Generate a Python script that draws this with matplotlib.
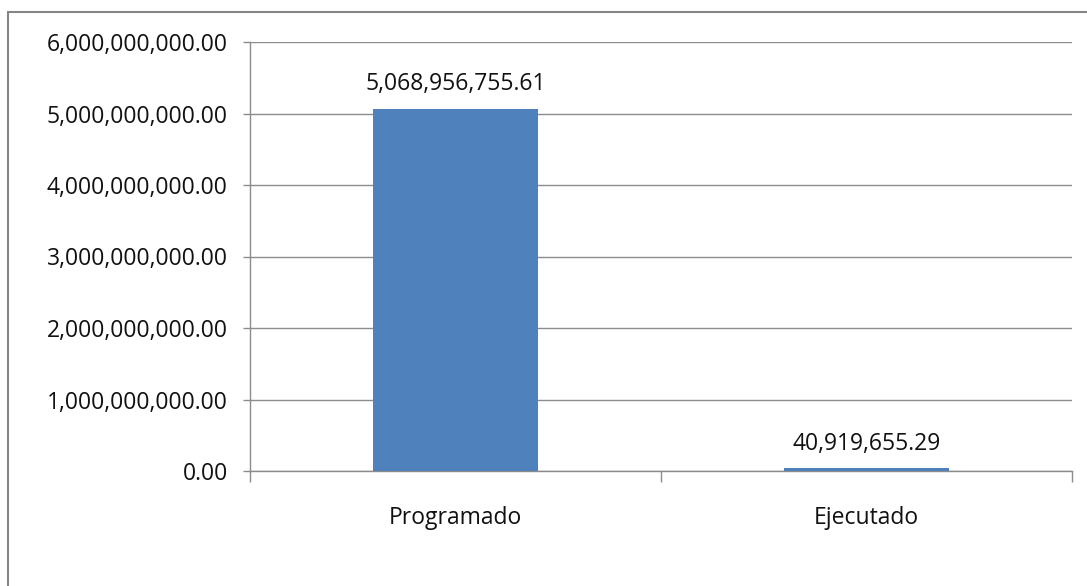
import matplotlib.pyplot as plt
import matplotlib.ticker as mticker
from matplotlib.patches import Rectangle

categorias = ["Programado", "Ejecutado"]
montos = [5068956755.61, 40919655.29]
y_ticks = [0, 1e9, 2e9, 3e9, 4e9, 5e9, 6e9]

plt.rcParams['font.family'] = ['Open Sans', 'DejaVu Sans']

fig = plt.figure(figsize=(10.87, 5.86), dpi=100)
ax = fig.add_axes([250/1087, 1 - 471/586, (1072-250)/1087, (471-42)/586])

x = range(len(categorias))
bars = ax.bar(x, montos, width=0.4, color="#4f81bd", zorder=3)

ax.set_xlim(-0.5, 1.5)
ax.set_ylim(0, 6e9)
ax.set_yticks(y_ticks)
ax.yaxis.set_major_formatter(mticker.FuncFormatter(lambda v, p: "{:,.2f}".format(v)))
ax.grid(axis="y", color="#8c8c8c", linewidth=1, zorder=0)

# category boundaries as major ticks, labels on minor ticks
ax.set_xticks([-0.5, 0.5, 1.5])
ax.set_xticklabels([])
ax.set_xticks(list(x), minor=True)
ax.set_xticklabels(categorias, minor=True)
ax.tick_params(axis="x", which="major", length=8, color="#8c8c8c", width=1)
ax.tick_params(axis="x", which="minor", length=0, pad=25.5, labelsize=16.5, labelcolor="#111111")
ax.tick_params(axis="y", length=5, color="#8c8c8c", width=1, pad=11, labelsize=16.5, labelcolor="#111111")

for s in ["top", "right"]:
    ax.spines[s].set_visible(False)
for s in ["left", "bottom"]:
    ax.spines[s].set_color("#8c8c8c")
    ax.spines[s].set_linewidth(1)

for xi, v in zip(x, montos):
    ax.annotate("{:,.2f}".format(v), (xi, v), xytext=(0, 9), textcoords="offset points",
                ha="center", va="bottom", fontsize=16.5, color="#111111")

# outer chart border (cut off at right and bottom)
fig.patches.append(Rectangle((8/1087, -0.1), 1.2, 1.1 - 12/586, transform=fig.transFigure,
                             fill=False, edgecolor="#868686", linewidth=1.5))

fig.savefig("out.png", dpi=100)
